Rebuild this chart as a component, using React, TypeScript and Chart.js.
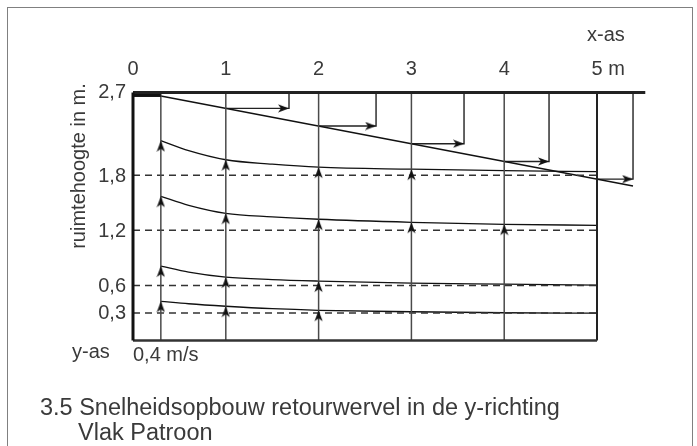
import React, { useEffect, useRef } from 'react';
import { Chart, registerables } from 'chart.js';

Chart.register(...registerables);

// ---- axis labelling ----
const xTickValues = [0, 1, 2, 3, 4, 5];
const xTickLabels = ['0', '1', '2', '3', '4', '5'];
const xUnit = ' m';
const yTickValues = [2.7, 1.8, 1.2, 0.6, 0.3];
const yTickLabels = ['2,7', '1,8', '1,2', '0,6', '0,3'];

// ---- room geometry (m) ----
const roomHeight = 2.7;
const roomLength = 5;
const ceilingEnd = 5.52;
const supplyX = 0.3; // reference line for 0,4 m/s
const gridX = [1, 2, 3, 4];
const dashedLevels = [1.8, 1.2, 0.6, 0.3];

// ---- velocity build-up curves ----
const curveX = [0.3, 0.6, 1, 1.5, 2, 3, 4, 5];
const curve18 = [2.175, 2.067, 1.968, 1.92, 1.887, 1.865, 1.849, 1.838];
const curve12 = [1.57, 1.472, 1.385, 1.347, 1.32, 1.287, 1.265, 1.254];
const curve06 = [0.81, 0.745, 0.69, 0.663, 0.647, 0.625, 0.614, 0.603];
const curve03 = [0.427, 0.4, 0.373, 0.346, 0.329, 0.313, 0.302, 0.297];

// positions (x) where an upward arrow sits on each curve
const arrows18 = [0.3, 1, 2, 3];
const arrows12 = [0.3, 1, 2, 3, 4];
const arrows06 = [0.3, 1, 2];
const arrows03 = [0.3, 1, 2];

// ---- ceiling jet ----
const diagonalX = [0.3, 5.388];
const diagonalY = [2.662, 1.682];
const ceilingArrowX = [1, 2, 3, 4, 5];
const ceilingArrowY = [2.527, 2.335, 2.142, 1.949, 1.757];
const ceilingArrowEnd = [1.681, 2.619, 3.567, 4.483, 5.388];

const FONT = '"Liberation Sans", Arial, sans-serif';
const TEXT = '#3a3a3a';

function makeArrowImage(): HTMLCanvasElement {
  const c = document.createElement('canvas');
  c.width = 9;
  c.height = 24;
  const g = c.getContext('2d')!;
  g.fillStyle = '#111111';
  g.beginPath();
  g.moveTo(4.5, 12);
  g.lineTo(8.6, 23);
  g.lineTo(4.5, 20);
  g.lineTo(0.4, 23);
  g.closePath();
  g.fill();
  return c;
}

const textPlugin = {
  id: 'diagramText',
  afterDraw(chart: any) {
    const { ctx } = chart;
    const xs = chart.scales.x;
    const ys = chart.scales.y;
    ctx.save();
    ctx.fillStyle = TEXT;
    ctx.font = `20px ${FONT}`;
    ctx.textBaseline = 'alphabetic';

    // x ticks
    xTickValues.forEach((v, i) => {
      const px = xs.getPixelForValue(v);
      if (i === xTickValues.length - 1) {
        const w = ctx.measureText(xTickLabels[i]).width;
        ctx.textAlign = 'left';
        ctx.fillText(xTickLabels[i] + xUnit, px - w / 2, 75);
        const total = ctx.measureText(xTickLabels[i] + xUnit).width;
        ctx.textAlign = 'right';
        ctx.fillText('x-as', px - w / 2 + total, 41);
      } else {
        ctx.textAlign = 'center';
        ctx.fillText(xTickLabels[i], px, 75);
      }
    });

    // y ticks
    ctx.textAlign = 'right';
    yTickValues.forEach((v, i) => {
      const py = ys.getPixelForValue(v);
      ctx.fillText(yTickLabels[i], 126, py + (i === 0 ? 5 : 6.5));
    });

    ctx.textAlign = 'left';
    ctx.fillText('y-as', 72, 358);
    ctx.fillText('0,4 m/s', xs.getPixelForValue(0), 361);

    // y title
    ctx.save();
    ctx.translate(85, 166);
    ctx.rotate(-Math.PI / 2);
    ctx.textAlign = 'center';
    ctx.fillText('ruimtehoogte in m.', 0, 0);
    ctx.restore();

    // caption
    ctx.font = `23.5px ${FONT}`;
    ctx.textAlign = 'left';
    ctx.fillText('3.5 Snelheidsopbouw retourwervel in de y-richting', 40, 414.5);
    ctx.fillText('Vlak Patroon', 78, 439.5);
    ctx.restore();
  },
};

export default function App() {
  const ref = useRef<HTMLCanvasElement | null>(null);

  useEffect(() => {
    if (!ref.current) return;
    const arrowImg = makeArrowImage();

    const seg = (pts: { x: number; y: number }[], color: string, width: number, extra: any = {}) => ({
      data: pts,
      showLine: true,
      pointRadius: 0,
      borderColor: color,
      borderWidth: width,
      fill: false,
      clip: false,
      order: 1,
      ...extra,
    });

    const curves = [curve18, curve12, curve06, curve03];
    const curveArrows = [arrows18, arrows12, arrows06, arrows03];

    const datasets: any[] = [];

    // frame
    datasets.push(seg([{ x: 0, y: 0 }, { x: 0, y: roomHeight }], '#111', 3));
    datasets.push(seg([{ x: 0, y: roomHeight }, { x: ceilingEnd, y: roomHeight }], '#222', 3));
    datasets.push(seg([{ x: 0, y: 0 }, { x: roomLength, y: 0 }], '#333', 2.5));
    datasets.push(seg([{ x: roomLength, y: 0 }, { x: roomLength, y: roomHeight }], '#222', 2));
    // supply slot at the ceiling
    datasets.push(seg([{ x: 0, y: roomHeight - 0.016 }, { x: supplyX, y: roomHeight - 0.016 }], '#111', 6));

    // vertical lines
    [supplyX, ...gridX].forEach((gx) =>
      datasets.push(seg([{ x: gx, y: 0 }, { x: gx, y: roomHeight }], '#4a4a4a', 1.5))
    );

    // dashed levels
    dashedLevels.forEach((lv) =>
      datasets.push(seg([{ x: 0, y: lv }, { x: roomLength, y: lv }], '#333', 1.5, { borderDash: [7, 5] }))
    );

    // curves
    curves.forEach((c) =>
      datasets.push(
        seg(curveX.map((x, i) => ({ x, y: c[i] })), '#111', 1.3, { cubicInterpolationMode: 'monotone' })
      )
    );

    // diagonal
    datasets.push(seg(diagonalX.map((x, i) => ({ x, y: diagonalY[i] })), '#111', 1.3));

    // ceiling velocity arrows
    ceilingArrowX.forEach((gx, i) => {
      datasets.push(
        seg(
          [
            { x: gx, y: ceilingArrowY[i] },
            { x: ceilingArrowEnd[i], y: ceilingArrowY[i] },
            { x: ceilingArrowEnd[i], y: roomHeight },
          ],
          '#222',
          1.4
        )
      );
    });

    // arrowheads
    datasets.push({
      data: ceilingArrowX.map((_, i) => ({ x: ceilingArrowEnd[i], y: ceilingArrowY[i] })),
      showLine: false,
      pointStyle: arrowImg,
      pointRadius: 1,
      pointRotation: 90,
      order: -1,
    });
    const upPts: { x: number; y: number }[] = [];
    curves.forEach((c, ci) => {
      curveArrows[ci].forEach((ax) => {
        const idx = curveX.indexOf(ax);
        upPts.push({ x: ax, y: c[idx] });
      });
    });
    datasets.push({
      data: upPts,
      showLine: false,
      pointStyle: arrowImg,
      pointRadius: 1,
      pointRotation: 0,
      order: -1,
    });

    const chart = new Chart(ref.current, {
      type: 'scatter',
      data: { datasets },
      options: {
        animation: false,
        responsive: false,
        devicePixelRatio: 1,
        events: [],
        layout: { padding: { left: 133, right: 44.3, top: 92.5, bottom: 105.5 } },
        scales: {
          x: { type: 'linear', min: 0, max: 5.6, display: false },
          y: { type: 'linear', min: 0, max: 2.7, display: false },
        },
        plugins: {
          legend: { display: false },
          tooltip: { enabled: false },
          title: { display: false },
        },
      },
      plugins: [textPlugin],
    });
    return () => chart.destroy();
  }, []);

  return (
    <div style={{ position: 'fixed', left: 0, top: 0, width: 697, height: 446, background: '#fff', overflow: 'hidden' }}>
      <canvas ref={ref} width={697} height={446} style={{ position: 'absolute', left: 0, top: 0 }} />
      <div
        style={{
          position: 'absolute',
          left: 7,
          top: 7,
          width: 684,
          height: 460,
          border: '1px solid #808080',
          pointerEvents: 'none',
        }}
      />
    </div>
  );
}
